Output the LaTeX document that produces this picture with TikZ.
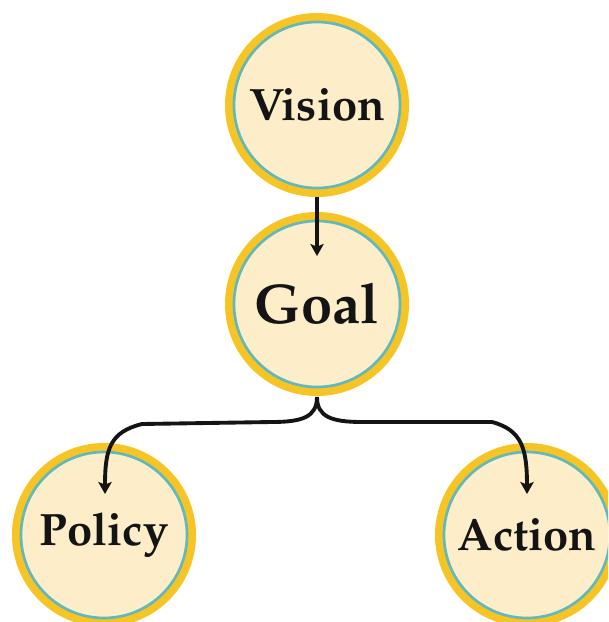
\documentclass[tikz,border=0pt]{standalone}
\usepackage[T1]{fontenc}
\renewcommand{\rmdefault}{ppl}
\usetikzlibrary{arrows.meta,calc}
\definecolor{ringgold}{RGB}{246,196,36}
\definecolor{cream}{RGB}{253,237,200}
\definecolor{ringteal}{RGB}{95,185,190}
\tikzset{
  bub/.style={circle, inner sep=0pt, outer sep=0pt, minimum size=124.5pt,
    fill=cream, draw=ringteal, line width=2pt,
    preaction={draw=ringgold, line width=13.5pt},
    font=\fontsize{34}{40}\selectfont\bfseries, text=black!92},
  bigtext/.style={font=\fontsize{42}{48}\selectfont\bfseries},
  conn/.style={draw=black!92, line width=2.9pt, -{Stealth[length=9pt,width=10pt,inset=2pt]}},
}
\begin{document}
\begin{tikzpicture}[x=0.75pt,y=-0.75pt]
\useasboundingbox (0,0) rectangle (608,622);
\fill[white] (0,0) rectangle (608,622);
\clip (0,0) rectangle (608,622);
\node[bub] (v) at (317,105) {Vision};
\node[bub,bigtext] (g) at (317,304) {Goal};
\node[bub] (p) at (104,535) {Policy};
\node[bub] (a) at (527,535) {Action};
\coordinate (j) at ($(g.south)+(0,10)$);
\draw[conn] ($(v.south)+(0,9)$) -- ($(g.north)+(0,35)$);
\draw[conn] (j) .. controls ($(j)+(0,20)$) and ($(j)+(-15,25)$) .. ($(j)+(-45,25)$)
  -- ($(j)+(-175,27)$) .. controls ($(p.north)+(6,-20)$) and ($(p.north)+(1,-3)$) .. ($(p.north)+(1,42)$);
\draw[conn] (j) .. controls ($(j)+(0,20)$) and ($(j)+(15,25)$) .. ($(j)+(45,25)$)
  -- ($(j)+(175,25)$) .. controls ($(a.north)+(-5,-22)$) and ($(a.north)+(0,-3)$) .. ($(a.north)+(0,42)$);
\end{tikzpicture}
\end{document}
